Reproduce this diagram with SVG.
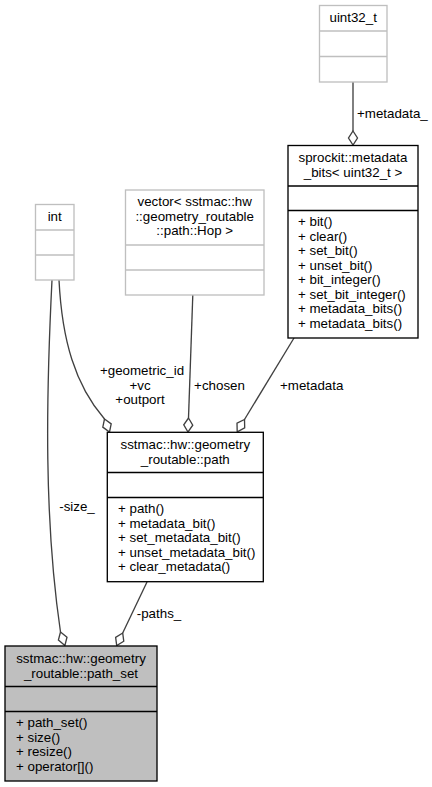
<svg xmlns="http://www.w3.org/2000/svg" width="432" height="787" viewBox="0 0 432 787">
<style>
text{font-family:"Liberation Sans",Arial,Helvetica,sans-serif;font-size:13.33px;fill:#000}
.c{text-anchor:middle}
.box{fill:#fff;stroke:#000;stroke-width:1.33}
.gbox{fill:#fff;stroke:#bfbfbf;stroke-width:1.33}
.sel{fill:#bfbfbf;stroke:#000;stroke-width:1.33}
.sep{stroke:#000;stroke-width:1.33}
.gsep{stroke:#bfbfbf;stroke-width:1.33}
.edge{fill:none;stroke:#404040;stroke-width:1.33}
.dia{fill:#fff;stroke:#404040;stroke-width:1.33}
</style>
<rect width="432" height="787" fill="#fff"/>
<g id="connectors">
<path class="edge" d="M353,82 L353,131"/>
<polygon class="dia" points="353,131 357.5,138 353,145 348.5,138"/>
<text x="357" y="118">+metadata_</text>
<path class="edge" d="M59,280 C62,340 75,385 104.5,419"/>
<polygon class="dia" points="104.5,419 111.2,423.9 109.5,432 102.8,427.1"/>
<text class="c" x="142" y="375">+geometric_id</text>
<text class="c" x="140" y="389.5">+vc</text>
<text class="c" x="140" y="404">+outport</text>
<path class="edge" d="M52,280 C46,400 44,520 60.5,632"/>
<polygon class="dia" points="60.5,632 67,637.2 64.9,645.5 58.4,640"/>
<text class="c" x="77" y="511">-size_</text>
<path class="edge" d="M192.8,295 L188.5,418"/>
<polygon class="dia" points="188.5,418 192.75,425.15 188,432 183.75,424.85"/>
<text class="c" x="219.5" y="389.5">+chosen</text>
<path class="edge" d="M294,338 L244.5,419.5"/>
<polygon class="dia" points="244.5,419.5 244.7,427.8 237.2,431.8 237,423.1"/>
<text class="c" x="311.7" y="389.5">+metadata</text>
<path class="edge" d="M147,582 L122.7,633"/>
<polygon class="dia" points="122.7,633 123.76,641.24 116.7,645.6 115.64,637.36"/>
<text class="c" x="159" y="617.5">-paths_</text>
</g>
<g id="uint32_t">
<rect class="gbox" x="319.5" y="5.5" width="67.5" height="76.5"/>
<line class="gsep" x1="319.5" y1="31" x2="387" y2="31"/>
<line class="gsep" x1="319.5" y1="56.5" x2="387" y2="56.5"/>
<text class="c" x="353.2" y="22">uint32_t</text>
</g>
<g id="int">
<rect class="gbox" x="35.5" y="204.5" width="38.5" height="75.5"/>
<line class="gsep" x1="35.5" y1="230" x2="74" y2="230"/>
<line class="gsep" x1="35.5" y1="255" x2="74" y2="255"/>
<text class="c" x="54.7" y="221">int</text>
</g>
<g id="vector">
<rect class="gbox" x="125.5" y="190" width="138.5" height="105"/>
<line class="gsep" x1="125.5" y1="245" x2="264" y2="245"/>
<line class="gsep" x1="125.5" y1="270" x2="264" y2="270"/>
<text class="c" x="194.7" y="206">vector&lt; sstmac::hw</text>
<text class="c" x="194.7" y="220.5">::geometry_routable</text>
<text class="c" x="194.7" y="235">::path::Hop &gt;</text>
</g>
<g id="metadata_bits">
<rect class="box" x="288" y="145.5" width="130" height="192.5"/>
<line class="sep" x1="288" y1="186" x2="418" y2="186"/>
<line class="sep" x1="288" y1="210.5" x2="418" y2="210.5"/>
<text class="c" x="353" y="162">sprockit::metadata</text>
<text class="c" x="353" y="176.5">_bits&lt; uint32_t &gt;</text>
<text x="298" y="226">+ bit()</text>
<text x="298" y="240.5">+ clear()</text>
<text x="298" y="255">+ set_bit()</text>
<text x="298" y="269.5">+ unset_bit()</text>
<text x="298" y="284">+ bit_integer()</text>
<text x="298" y="298.5">+ set_bit_integer()</text>
<text x="298" y="313">+ metadata_bits()</text>
<text x="298" y="327.5">+ metadata_bits()</text>
</g>
<g id="path">
<rect class="box" x="107.3" y="432.3" width="156" height="149.4"/>
<line class="sep" x1="107.3" y1="472.5" x2="263.3" y2="472.5"/>
<line class="sep" x1="107.3" y1="497.5" x2="263.3" y2="497.5"/>
<text class="c" x="185.3" y="449">sstmac::hw::geometry</text>
<text class="c" x="185.3" y="463.5">_routable::path</text>
<text x="118" y="513">+ path()</text>
<text x="118" y="527.5">+ metadata_bit()</text>
<text x="118" y="542">+ set_metadata_bit()</text>
<text x="118" y="556.5">+ unset_metadata_bit()</text>
<text x="118" y="571">+ clear_metadata()</text>
</g>
<g id="path_set">
<rect class="sel" x="5" y="646" width="152" height="135"/>
<line class="sep" x1="5" y1="686.5" x2="157" y2="686.5"/>
<line class="sep" x1="5" y1="711.5" x2="157" y2="711.5"/>
<text class="c" x="81" y="663">sstmac::hw::geometry</text>
<text class="c" x="81" y="677.5">_routable::path_set</text>
<text x="16" y="727">+ path_set()</text>
<text x="16" y="741.5">+ size()</text>
<text x="16" y="756">+ resize()</text>
<text x="16" y="770.5">+ operator[]()</text>
</g>
</svg>
